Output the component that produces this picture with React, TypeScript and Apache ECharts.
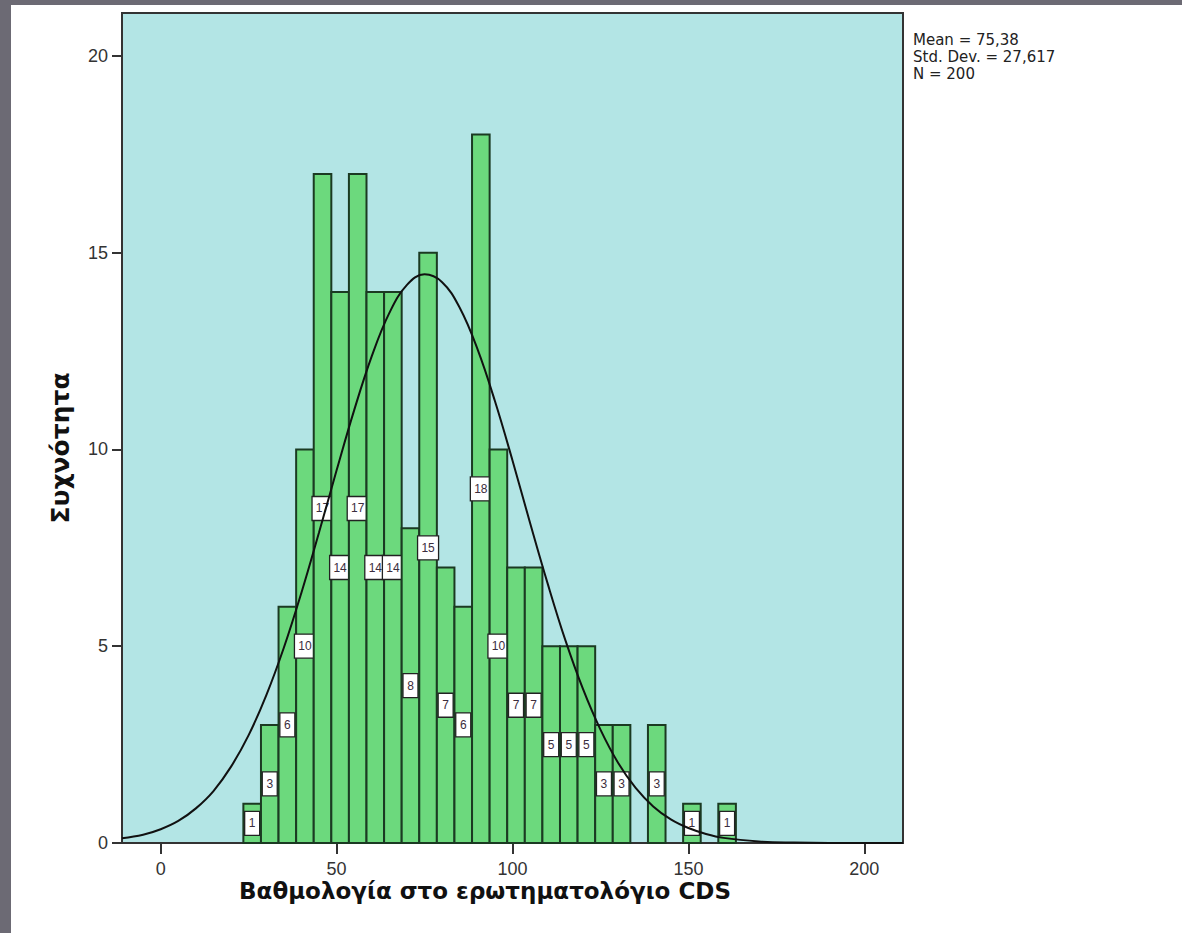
import React, { useEffect, useRef } from "react";
import * as echarts from "echarts";

// Histogram bins (centre of each bin) and counts
const binCenters = [26, 31, 36, 41, 46, 51, 56, 61, 66, 71, 76, 81, 86, 91, 96, 101, 106, 111, 116, 121, 126, 131, 136, 141, 146, 151, 156, 161];
const binCounts = [1, 3, 6, 10, 17, 14, 17, 14, 14, 8, 15, 7, 6, 18, 10, 7, 7, 5, 5, 5, 3, 3, 0, 3, 0, 1, 0, 1];
const BIN_WIDTH = 5;

// Normal curve overlay
const curveX = [-11, -5, 0, 5, 10, 15, 20, 25, 30, 35, 40, 45, 50, 55, 60, 65, 70, 75, 80, 85, 90, 95, 100, 105, 110, 115, 120, 125, 130, 135, 140, 145, 150, 155, 160, 170, 180, 190, 211];
const curveY = [0.12, 0.21, 0.35, 0.56, 0.88, 1.32, 1.94, 2.74, 3.75, 4.96, 6.36, 7.89, 9.47, 11.0, 12.37, 13.47, 14.18, 14.45, 14.25, 13.6, 12.56, 11.23, 9.72, 8.13, 6.59, 5.16, 3.92, 2.88, 2.04, 1.4, 0.93, 0.6, 0.38, 0.23, 0.13, 0.04, 0.01, 0, 0];

const xTicks = [0, 50, 100, 150, 200];
const yTicks = [0, 5, 10, 15, 20];
const statsLines = ["Mean = 75,38", "Std. Dev. = 27,617", "N = 200"];
const xTitle = "Βαθμολογία στο ερωτηματολόγιο CDS";
const yTitle = "Συχνότητα";

const FONT = "'Liberation Sans', Arial, sans-serif";
const WIDE = "'DejaVu Sans', sans-serif";

export default function App() {
  const ref = useRef<HTMLDivElement>(null);
  useEffect(() => {
    if (!ref.current) return;
    const chart = echarts.init(ref.current, null, { renderer: "svg" });
    const histData = binCenters.map((c, i) => [c, binCounts[i]]);
    const curveData = curveX.map((x, i) => [x, curveY[i]]);
    chart.setOption({
      animation: false,
      backgroundColor: "#ffffff",
      grid: {
        left: 122,
        top: 13,
        width: 781,
        height: 830,
        show: true,
        backgroundColor: "#b3e5e5",
        borderColor: "#333333",
        borderWidth: 2,
      },
      xAxis: {
        type: "value",
        min: -11,
        max: 211,
        splitLine: { show: false },
        axisLine: { show: true, onZero: false, lineStyle: { color: "#333333", width: 2 } },
        axisTick: { show: true, customValues: xTicks, length: 11, lineStyle: { color: "#333333", width: 2 } },
        axisLabel: { customValues: xTicks, margin: 17, color: "#333333", fontSize: 18, fontFamily: FONT },
      },
      yAxis: {
        type: "value",
        min: 0,
        max: 21.09,
        splitLine: { show: false },
        axisLine: { show: true, onZero: false, lineStyle: { color: "#333333", width: 2 } },
        axisTick: { show: true, customValues: yTicks, length: 10, lineStyle: { color: "#333333", width: 2 } },
        axisLabel: { customValues: yTicks, margin: 14, color: "#333333", fontSize: 18, fontFamily: FONT },
      },
      series: [
        {
          type: "custom",
          data: histData,
          z: 2,
          renderItem: (params: any, api: any) => {
            const c = api.value(0);
            const v = api.value(1);
            if (!v) return null;
            const p0 = api.coord([c - BIN_WIDTH / 2, v]);
            const p1 = api.coord([c + BIN_WIDTH / 2, 0]);
            const mid = api.coord([c, v / 2]);
            const label = String(v);
            const bw = label.length > 1 ? 21 : 15;
            const bh = 24;
            return {
              type: "group",
              children: [
                {
                  type: "rect",
                  shape: { x: p0[0], y: p0[1], width: p1[0] - p0[0], height: p1[1] - p0[1] },
                  style: { fill: "#6cd97d", stroke: "#1b3a22", lineWidth: 2 },
                },
                {
                  type: "rect",
                  shape: { x: mid[0] - bw / 2, y: mid[1] - bh / 2, width: bw, height: bh },
                  style: { fill: "#ffffff", stroke: "#222222", lineWidth: 1.3 },
                },
                {
                  type: "text",
                  x: mid[0],
                  y: mid[1],
                  style: {
                    text: label,
                    fill: "#3b2d3d",
                    font: `12px ${FONT}`,
                    align: "center",
                    verticalAlign: "middle",
                  },
                },
              ],
            };
          },
        },
        {
          type: "line",
          data: curveData,
          smooth: 0.4,
          showSymbol: false,
          z: 5,
          lineStyle: { color: "#111111", width: 2 },
        },
      ],
      graphic: [
        { type: "rect", left: 0, top: 0, shape: { x: 0, y: 0, width: 11, height: 933 }, style: { fill: "#6c6a74" } },
        { type: "rect", left: 0, top: 0, shape: { x: 0, y: 0, width: 1182, height: 5 }, style: { fill: "#6c6a74" } },
        {
          type: "text",
          x: 913,
          y: 32,
          style: { text: statsLines[0], font: `15px ${WIDE}`, fill: "#222222" },
        },
        {
          type: "text",
          x: 913,
          y: 49,
          style: { text: statsLines[1], font: `15px ${WIDE}`, fill: "#222222" },
        },
        {
          type: "text",
          x: 913,
          y: 66,
          style: { text: statsLines[2], font: `15px ${WIDE}`, fill: "#222222" },
        },
        {
          type: "text",
          x: 485,
          y: 891,
          style: { text: xTitle, font: `bold 23px ${WIDE}`, fill: "#111111", align: "center", verticalAlign: "middle" },
        },
        {
          type: "text",
          x: 60,
          y: 448,
          rotation: Math.PI / 2,
          style: { text: yTitle, font: `bold 25px ${WIDE}`, fill: "#111111", align: "center", verticalAlign: "middle" },
        },
      ],
    });
    return () => chart.dispose();
  }, []);
  return (
    <div
      ref={ref}
      style={{ position: "absolute", left: 0, top: 0, width: 1182, height: 933, background: "#ffffff" }}
    />
  );
}
